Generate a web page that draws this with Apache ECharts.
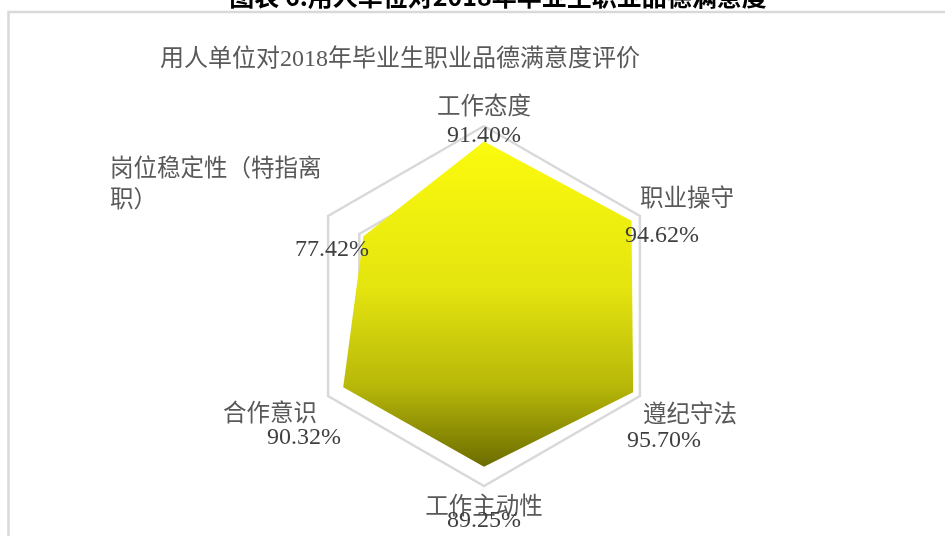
<!DOCTYPE html>
<html><head><meta charset="utf-8">
<script src="https://cdn.jsdelivr.net/npm/echarts@6/dist/echarts.min.js"></script>
<style>html,body{margin:0;padding:0;background:#fff}#c{width:945px;height:536px}</style>
</head><body><div id="c"></div>
<script>
// Data (counter-clockwise from top, as ECharts radar lays indicators out)
var categories = ['工作态度', '岗位稳定性（特指离\n职）', '合作意识', '工作主动性', '遵纪守法', '职业操守'];
var values = [91.40, 77.42, 90.32, 89.25, 95.70, 94.62];
var axisMax = 100;
var chartTitle = '用人单位对2018年毕业生职业品德满意度评价';
var docTitle = '图表 6:用人单位对2018年毕业生职业品德满意度';

// Layout for labels (name pos, value pos) – separate from data
var nameLayout = [
  {x: 484, y: 105, align: 'center'},
  {x: 110, y: 183, align: 'left'},
  {x: 317, y: 412, align: 'right'},
  {x: 484, y: 505, align: 'center'},
  {x: 643, y: 413, align: 'left'},
  {x: 640, y: 197, align: 'left'}
];
var valueLayout = [
  {x: 484, y: 136, align: 'center'},
  {x: 369, y: 250, align: 'right'},
  {x: 341, y: 438, align: 'right'},
  {x: 484, y: 521, align: 'center'},
  {x: 627, y: 441, align: 'left'},
  {x: 625, y: 236, align: 'left'}
];

var SERIF_CJK = '"Liberation Serif", "Noto Sans CJK SC"';
var SANS_CJK = '"Noto Sans CJK SC", sans-serif';

var graphics = [
  {type: 'rect', shape: {x: 8.5, y: 12, width: 980, height: 600}, style: {fill: 'none', stroke: '#d9d9d9', lineWidth: 2.5}, silent: true},
  {type: 'text', x: 498, y: -4, style: {text: docTitle, align: 'center', verticalAlign: 'middle', fontFamily: SANS_CJK, fontSize: 25, fontWeight: 'bold', fill: '#000'}},
  {type: 'text', x: 160, y: 60, style: {text: chartTitle, align: 'left', verticalAlign: 'middle', fontFamily: SERIF_CJK, fontSize: 24, fill: '#595959'}}
];
categories.forEach(function (c, i) {
  var nl = nameLayout[i], vl = valueLayout[i];
  graphics.push({type: 'text', x: nl.x, y: nl.y, z: 10, style: {text: c, align: nl.align, verticalAlign: 'middle', fontFamily: SANS_CJK, fontSize: 23.5, fill: '#595959', lineHeight: 31}});
  graphics.push({type: 'text', x: vl.x, y: vl.y, z: 11, style: {text: values[i].toFixed(2) + '%', align: vl.align, verticalAlign: 'middle', fontFamily: '"Liberation Serif", serif', fontSize: 24, fill: '#404040'}});
});

var chart = echarts.init(document.getElementById('c'), null, {renderer: 'canvas'});
chart.setOption({
  backgroundColor: '#ffffff',
  animation: false,
  radar: {
    center: [484, 306],
    radius: 180,
    startAngle: 90,
    splitNumber: 5,
    shape: 'polygon',
    indicator: categories.map(function (c) { return {name: c, min: 0, max: axisMax}; }),
    axisName: {show: false},
    axisLine: {show: false},
    axisTick: {show: false},
    axisLabel: {show: false},
    splitArea: {show: false},
    splitLine: {lineStyle: {color: '#d9d9d9', width: 2.5}}
  },
  series: [{
    type: 'radar',
    symbol: 'none',
    lineStyle: {width: 0},
    areaStyle: {
      opacity: 1,
      color: new echarts.graphic.LinearGradient(0, 0, 0, 1, [
        {offset: 0, color: '#fbfb0e'},
        {offset: 0.45, color: '#e4e40f'},
        {offset: 0.75, color: '#b8b80a'},
        {offset: 1, color: '#6c6c00'}
      ])
    },
    data: [{value: values, name: chartTitle}]
  }],
  graphic: graphics
});
</script></body></html>
